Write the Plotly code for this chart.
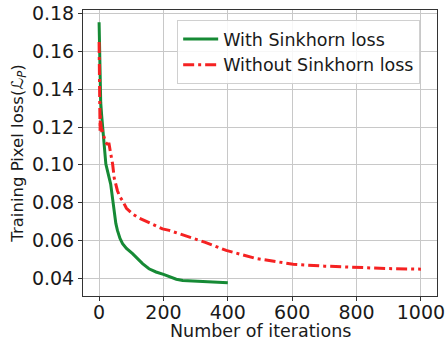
import plotly.graph_objects as go

# With Sinkhorn loss
green_x = [0, 1, 2, 3, 5, 8, 10, 15, 21, 30, 36, 42, 47, 52, 57, 65, 73, 85, 104, 120,
           135, 155, 177, 200, 218, 240, 260, 290, 320, 360, 400]
green_y = [0.1754, 0.160, 0.148, 0.140, 0.133, 0.126, 0.122, 0.115, 0.1004, 0.094, 0.0898,
           0.082, 0.074, 0.069, 0.0653, 0.061, 0.0583, 0.0558, 0.053, 0.050, 0.0477, 0.045,
           0.0433, 0.042, 0.0407, 0.0395, 0.0388, 0.0385, 0.0382, 0.0380, 0.0376]

# Without Sinkhorn loss
red_x = [0, 1, 2, 3, 4, 5, 6, 8, 10, 15, 20, 25, 31, 36, 42, 47, 57, 65, 73, 85, 104, 125,
         156, 197, 218, 250, 281, 330, 395, 450, 489, 550, 603, 700, 800, 900, 1000]
red_y = [0.165, 0.145, 0.128, 0.118, 0.126, 0.122, 0.120, 0.118, 0.118, 0.115, 0.112, 0.111,
         0.111, 0.106, 0.1004, 0.093, 0.0863, 0.083, 0.081, 0.077, 0.074, 0.0718, 0.0692,
         0.0661, 0.0653, 0.0635, 0.0617, 0.059, 0.0547, 0.0522, 0.0504, 0.0488, 0.0474,
         0.0464, 0.0456, 0.0451, 0.0448]

x_ticks = [0, 200, 400, 600, 800, 1000]
y_ticks = [0.04, 0.06, 0.08, 0.10, 0.12, 0.14, 0.16, 0.18]

FONT = "DejaVu Sans"

fig = go.Figure()
fig.add_trace(go.Scatter(x=green_x, y=green_y, mode="lines", name="With Sinkhorn loss",
                         line=dict(color="#168a35", width=3)))
fig.add_trace(go.Scatter(x=red_x, y=red_y, mode="lines", name="Without Sinkhorn loss",
                         line=dict(color="#f52222", width=3, dash="11px,4px,3px,4px")))

axis_common = dict(showgrid=True, gridcolor="#c8c8c8", gridwidth=1, showline=True,
                   linecolor="#333333", linewidth=1, mirror=True, ticks="outside",
                   ticklen=4, tickcolor="#333333", zeroline=False, automargin=False,
                   tickfont=dict(family=FONT, size=19, color="#1a1a1a"))

fig.update_xaxes(range=[-50, 1050], tickvals=x_ticks, ticktext=[str(v) for v in x_ticks],
                 **axis_common)
fig.update_yaxes(range=[0.0306, 0.1819], tickvals=y_ticks, ticktext=[f"{v:.2f}" for v in y_ticks],
                 title=dict(text="Training Pixel loss(<i>ℒ<sub>P</sub></i>)",
                            font=dict(family=FONT, size=16.5, color="#1a1a1a"), standoff=4),
                 **axis_common)

tick_shift_ok = True
try:
    fig.update_xaxes(ticklabelstandoff=-5)
except Exception:
    tick_shift_ok = False

title_y = -0.08 if tick_shift_ok else -0.10
fig.add_annotation(text="Number of iterations", xref="paper", yref="paper",
                   x=0.5, y=title_y, xanchor="center", yanchor="top", showarrow=False,
                   font=dict(family=FONT, size=17.5, color="#1a1a1a"))

fig.update_layout(
    width=446, height=341,
    margin=dict(l=83, r=9, t=10, b=45, autoexpand=False),
    paper_bgcolor="white", plot_bgcolor="white",
    font=dict(family=FONT, size=16, color="#1a1a1a"),
    legend=dict(x=0.266, y=0.965, xanchor="left", yanchor="top",
                bgcolor="rgba(255,255,255,0.85)", bordercolor="#d0d0d0", borderwidth=1,
                itemwidth=35,
                font=dict(family=FONT, size=17.5, color="#1a1a1a")),
    showlegend=True,
)

fig.write_html("out.html")
